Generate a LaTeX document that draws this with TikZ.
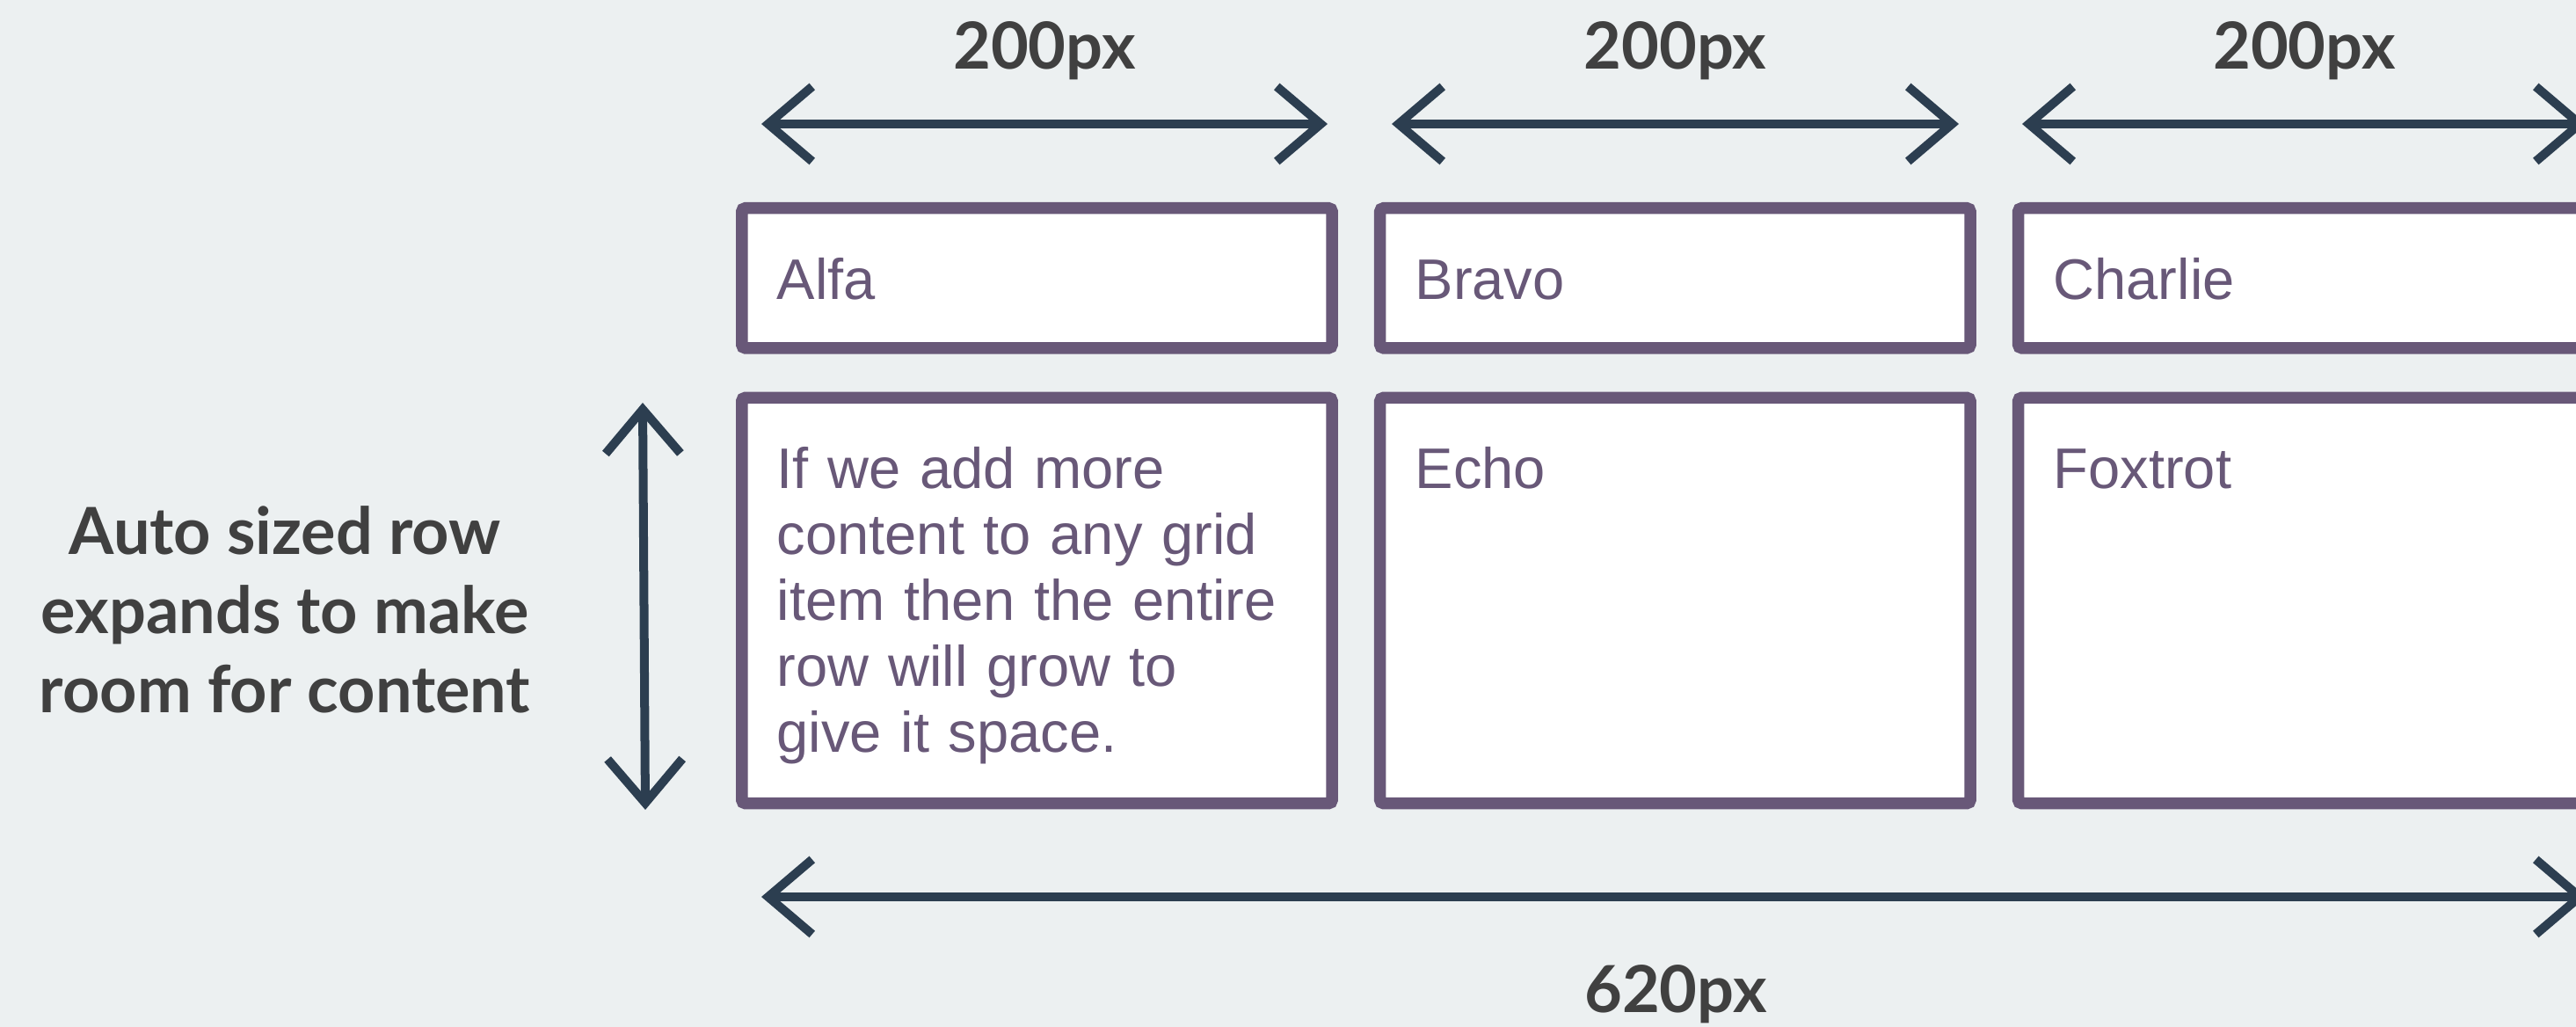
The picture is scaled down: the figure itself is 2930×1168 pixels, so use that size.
\documentclass[tikz,border=0pt]{standalone}
\usepackage{fontspec}
\setmainfont{Liberation Sans}
\newfontfamily\latofont{Lato}
\usepackage{xcolor}
\usetikzlibrary{positioning,calc,arrows.meta}

\definecolor{bgcol}{HTML}{ECF0F1}
\definecolor{cellcol}{HTML}{685878}
\definecolor{inkcol}{HTML}{2C3E50}
\definecolor{labelcol}{HTML}{404040}

\begin{document}
\begin{tikzpicture}[
    x=0.01cm, y=-0.01cm,
    cell/.style={draw=cellcol, line width=0.135cm, rounded corners=0.04cm, fill=white,
        text width=5.91cm, inner xsep=0.4cm, inner ysep=0pt, text height=1.035cm,
        align=left, text=cellcol, font=\fontsize{18.5pt}{21.3pt}\selectfont},
    hdrcell/.style={cell, text depth=0.555cm},
    bodycell/.style={cell, text depth=3.575cm},
    dim/.style={text=labelcol, anchor=base, font=\latofont\bfseries\fontsize{21pt}{25.6pt}\selectfont},
    sidelabel/.style={dim, anchor=center, align=center},
    brush/.style={draw=inkcol, line width=0.1cm, line cap=round, line join=round,
        {Straight Barb[length=0.5cm,width=0.85cm]}-{Straight Barb[length=0.5cm,width=0.85cm]}}
]
    \useasboundingbox (0,0) rectangle (2930,1168);
    \clip (0,0) rectangle (2930,1168);
    \fill [bgcol] (0,0) rectangle (2930,1168);

    % grid items
    \node [hdrcell, anchor=north west] (alfa) at (837,230) {Alfa};
    \node [hdrcell, right=0.41cm of alfa] (bravo) {Bravo};
    \node [hdrcell, right=0.41cm of bravo] (charlie) {Charlie};
    \node [bodycell, below=0.43cm of alfa] (more) {If we add more\\content to any grid\\item then the entire\\row will grow to\\give it space.};
    \node [bodycell, below=0.43cm of bravo] (echo) {Echo};
    \node [bodycell, below=0.43cm of charlie] (foxtrot) {Foxtrot};

    % column widths
    \coordinate (a1l) at (866,141);
    \coordinate (a1r) at (1510,141);
    \coordinate (a2l) at (1583,141);
    \coordinate (a2r) at (2228,141);
    \coordinate (a3l) at (2300,141);
    \coordinate (a3r) at (2942,141);
    \draw [brush] (a1l) -- (a1r);
    \draw [brush] (a2l) -- (a2r);
    \draw [brush] (a3l) -- (a3r);
    \node [dim] (w1) at ($(a1l)!0.5!(a1r)+(0,-62)$) {200px};
    \node [dim] (w2) at ($(a2l)!0.5!(a2r)+(0,-62)$) {200px};
    \node [dim] (w3) at ($(a3l)!0.5!(a3r)+(0,-62)$) {200px};

    % row height
    \coordinate (vt) at (731,458);
    \coordinate (vb) at (734,921);
    \draw [brush] (vt) -- (vb);
    \node [sidelabel] (auto) at (324,693) {Auto sized row\\expands to make\\room for content};

    % total width
    \coordinate (bl) at (866,1020);
    \coordinate (br) at (2942,1020);
    \draw [brush] (bl) -- (br);
    \node [dim] (total) at (1906,1152) {620px};
\end{tikzpicture}
\end{document}
